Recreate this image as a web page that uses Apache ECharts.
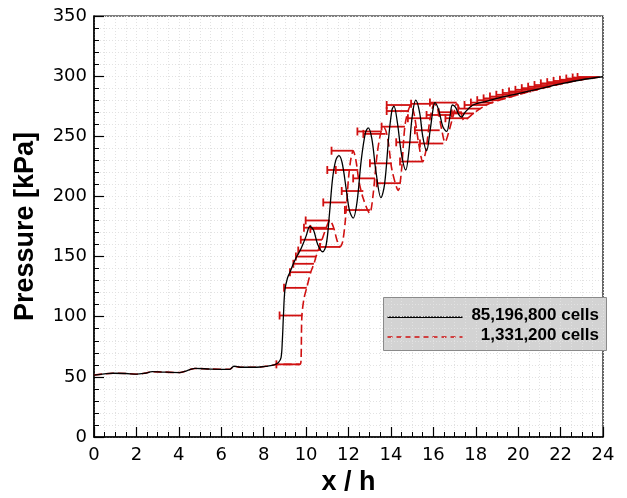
<!DOCTYPE html>
<html>
<head>
<meta charset="utf-8">
<script src="https://cdn.jsdelivr.net/npm/echarts@6/dist/echarts.min.js"></script>
<style>
  html, body { margin: 0; padding: 0; background: #fff; }
  #chart { width: 627px; height: 498px; }
</style>
</head>
<body>
<div id="chart"></div>
<script>
// Fine mesh (85,196,800 cells): streamwise position x/h and wall pressure [kPa]
const fineX = [0, 0.5, 0.9, 1.5, 2.0, 2.4, 2.75, 3.2, 4.05, 4.37, 4.6, 4.76, 5.5, 6.4, 6.6, 6.9, 7.67, 8.2, 8.5, 8.7,
  8.82, 8.88, 8.93, 9.0, 9.12, 9.24, 9.4, 9.56, 9.72, 9.87, 10.0, 10.18, 10.35, 10.55, 10.78, 10.95, 11.1, 11.25, 11.4, 11.55,
  11.7, 11.9, 12.05, 12.22, 12.4, 12.6, 12.8, 12.93, 13.1, 13.3, 13.53, 13.7, 13.9, 14.05, 14.14, 14.3, 14.5, 14.7, 14.85, 15.0,
  15.17, 15.35, 15.5, 15.68, 15.85, 16.0, 16.08, 16.25, 16.45, 16.63, 16.78, 16.9, 17.05, 17.2, 17.33, 17.5, 17.87, 18.5, 19, 20,
  21, 22, 23, 24];
const fineP = [51.5, 52.5, 53, 52.8, 52.2, 53, 54.3, 54, 53.6, 55, 56.5, 57, 56.5, 56.3, 58.8, 58, 58, 59, 60, 62,
  66, 80, 100, 122, 132, 137, 144, 150, 155, 161, 167, 175, 172, 160, 154, 160, 185, 215, 230, 234,
  228, 205, 188, 182, 195, 230, 253, 257, 248, 220, 199, 210, 250, 272, 275, 262, 235, 222, 238, 266,
  280, 270, 250, 238, 255, 274, 278, 272, 258, 254, 266, 276, 274, 268, 266, 270, 276, 279, 281.5, 285.5,
  289.5, 293.5, 297, 299.5];

// Coarse mesh (1,331,200 cells)
const coarseX = [0, 0.5, 0.9, 1.5, 2.0, 2.4, 2.75, 3.2, 4.05, 4.37, 4.6, 4.76, 5.5, 6.4, 6.6, 6.9, 7.67, 8.2, 8.5, 8.62,
  9.7, 9.76, 9.8, 9.9, 10.03, 10.22, 10.37, 10.47, 10.57, 10.75, 10.95, 11.12, 11.3, 11.45, 11.6, 11.72, 11.85, 12.0, 12.12, 12.22,
  12.35, 12.5, 12.7, 13.0, 13.15, 13.35, 13.55, 13.68, 13.85, 14.05, 14.35, 14.5, 14.68, 14.95, 15.1, 15.3, 15.5, 15.65, 15.85, 16.05,
  16.2, 16.4, 16.55, 16.75, 16.95, 17.1, 17.3, 17.45, 17.62, 18.0, 18.5, 19, 19.5, 20, 21, 22, 23, 23.5, 24];
const coarseP = [51.5, 52.5, 53, 52.8, 52.2, 53, 54.3, 54, 53.6, 55, 56.5, 57, 56.5, 56.3, 58.8, 58, 58, 59, 60, 60.4,
  60.4, 63, 100, 115, 124, 137, 144, 150, 155, 164, 174, 180, 174, 164, 158, 162, 180, 215, 232, 238,
  230, 212, 198, 186, 200, 235, 255, 257, 248, 222, 205, 222, 261, 276, 268, 245, 229, 238, 265, 277,
  273, 255, 245, 255, 268, 277, 270, 263, 265, 270.5, 276, 279.5, 282, 284.5, 289.3, 293.5, 297, 298.5, 299.5];

// Coarse-mesh shift bars: right end x/h, pressure, leftward extent
const barX = [9.70, 9.82, 10.03, 10.22, 10.37, 10.47, 10.57, 10.75, 10.95, 11.13, 11.30, 11.60, 11.91, 12.05, 12.22, 12.46,
  12.70, 13.01, 13.25, 13.52, 13.75, 14.04, 14.43, 14.66, 14.85, 15.00, 15.30, 15.53, 15.85, 16.05, 16.30, 16.47, 16.86, 17.10,
  17.35, 17.62, 17.92, 18.22, 18.52, 18.82, 19.12, 19.42, 19.72, 20.02, 20.32, 20.62, 20.92, 21.22, 21.52, 21.82, 22.12, 22.42,
  22.72, 23.02, 23.32, 23.62, 23.85];
const barP = [60.4, 101, 124, 137, 144, 150, 155, 164, 174, 180, 173, 158, 195, 222, 238, 222,
  204.5, 188.7, 215, 254, 252, 227.5, 211, 258, 271, 276, 245, 229, 265, 277, 255, 244, 267.7, 278,
  270, 265, 269, 273, 276, 278, 280, 281.5, 283, 284.5, 286, 287.2, 288.6, 290, 291.2, 292.6, 294, 295,
  296, 297, 298, 298.8, 299.3];
const barDx = [1.10, 1.07, 1.07, 0.98, 0.97, 0.95, 0.94, 1.00, 1.05, 1.15, 1.10, 0.95, 1.10, 1.05, 1.02, 1.06,
  1.02, 1.18, 1.03, 1.10, 1.05, 1.03, 1.10, 1.10, 1.05, 1.20, 1.05, 1.10, 1.05, 1.10, 1.17, 1.10, 1.18, 1.26,
  1.10, 1.05, 1.05, 1.05, 1.05, 1.05, 1.05, 1.05, 1.05, 1.05, 1.05, 1.05, 1.05, 1.05, 1.05, 1.05, 1.05, 1.05,
  1.05, 1.05, 1.05, 1.05, 1.05];

const legendNames = ['85,196,800 cells', '1,331,200 cells'];

const RED = '#d01010';
const FONT = 'DejaVu Sans';
const TITLE_FONT = 'Liberation Sans';
const GRID = { left: 94, right: 24, top: 16, bottom: 61 };

const zip = (xs, ys) => xs.map((x, i) => [x, ys[i]]);

const chart = echarts.init(document.getElementById('chart'), null, { renderer: 'canvas' });

const gridLine = { show: true, lineStyle: { color: '#e2e2e2', type: [1, 2], width: 1 } };
const legendText = { fontFamily: TITLE_FONT, fontWeight: 'bold', fontSize: 17, color: '#000',
                     textBorderWidth: 0, textShadowBlur: 0 };

chart.setOption({
  animation: false,
  backgroundColor: '#fff',
  // legend entries, right-aligned inside the key box
  title: [
    { text: legendNames[0], right: 28, top: 307, padding: 0, textStyle: legendText, z: 110 },
    { text: legendNames[1], right: 28, top: 327, padding: 0, textStyle: legendText, z: 110 }
  ],
  grid: { ...GRID, show: true, borderColor: '#000', borderWidth: 1.2, backgroundColor: 'transparent',
          containLabel: false, outerBoundsMode: 'none' },
  xAxis: {
    type: 'value', min: 0, max: 24, interval: 2,
    name: 'x / h', nameLocation: 'middle', nameGap: 30,
    nameTextStyle: { fontFamily: TITLE_FONT, fontWeight: 'bold', fontSize: 27, color: '#000' },
    axisLine: { show: true, onZero: false, lineStyle: { color: '#000', width: 1.5 } },
    axisTick: { show: true, inside: true, length: 10, lineStyle: { color: '#000', width: 1.2 } },
    minorTick: { show: true, splitNumber: 4, length: 5, lineStyle: { color: '#000', width: 1 } },
    axisLabel: { fontFamily: FONT, fontSize: 18, color: '#000', margin: 9 },
    splitLine: gridLine,
    minorSplitLine: gridLine
  },
  yAxis: {
    type: 'value', min: 0, max: 350, interval: 50,
    name: 'Pressure [kPa]', nameLocation: 'middle', nameGap: 55,
    nameTextStyle: { fontFamily: TITLE_FONT, fontWeight: 'bold', fontSize: 27, color: '#000' },
    axisLine: { show: true, onZero: false, lineStyle: { color: '#000', width: 1.5 } },
    axisTick: { show: true, inside: true, length: 10, lineStyle: { color: '#000', width: 1.2 } },
    minorTick: { show: true, splitNumber: 5, length: 5, lineStyle: { color: '#000', width: 1 } },
    axisLabel: { fontFamily: FONT, fontSize: 18, color: '#000', margin: 7 },
    splitLine: gridLine,
    minorSplitLine: gridLine
  },
  series: [
    {
      name: legendNames[1], type: 'line', data: zip(coarseX, coarseP),
      showSymbol: false, smooth: 0.3, clip: true,
      lineStyle: { color: RED, width: 1.6, type: [8, 4] }, z: 2
    },
    {
      name: 'bars', type: 'custom', clip: true, z: 3,
      data: barX.map((x, i) => [x, barP[i], barDx[i]]),
      encode: { x: 0, y: 1 },
      renderItem: (params, api) => {
        const r = api.coord([api.value(0), api.value(1)]);
        const l = api.coord([api.value(0) - api.value(2), api.value(1)]);
        const st = { stroke: RED, lineWidth: 1.8 };
        return {
          type: 'group',
          children: [
            { type: 'line', shape: { x1: l[0], y1: l[1], x2: r[0], y2: r[1] }, style: st },
            { type: 'line', shape: { x1: l[0], y1: l[1] - 4, x2: l[0], y2: l[1] + 4 }, style: st }
          ]
        };
      }
    },
    {
      name: legendNames[0], type: 'line', data: zip(fineX, fineP),
      showSymbol: false, smooth: 0.35, clip: true,
      lineStyle: { color: '#000', width: 1.3 }, z: 4
    }
  ],
  graphic: [
    {
      type: 'group', left: 383, top: 297, z: 100,
      children: [
        { type: 'rect', shape: { x: 0, y: 0, width: 223, height: 53 },
          style: { fill: '#d3d3d3', stroke: '#8a8a8a', lineWidth: 1 } },
        { type: 'rect', shape: { x: 4, y: 19, width: 75, height: 1.4 },
          style: { fill: '#000' } },
        { type: 'line', shape: { x1: 4, y1: 39.5, x2: 79, y2: 39.5 },
          style: { stroke: RED, lineWidth: 1.6, lineDash: [5, 4] } }
      ]
    }
  ]
});
</script>
</body>
</html>
